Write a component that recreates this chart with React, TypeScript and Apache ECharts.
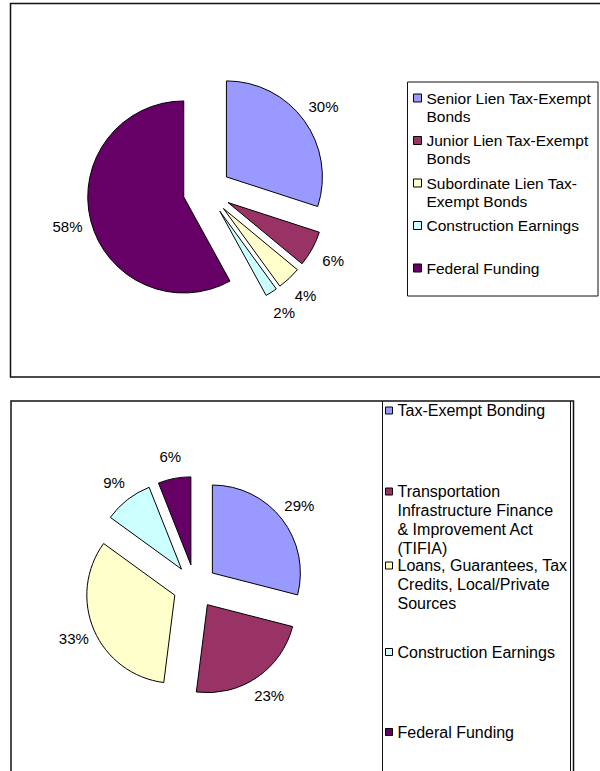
import React, { useEffect, useRef } from "react";
import * as echarts from "echarts";

// ---- data ----
const colors = ["#9999FF", "#993366", "#FFFFCC", "#CCFFFF", "#660066"];

const topNames = [
  "Senior Lien Tax-Exempt Bonds",
  "Junior Lien Tax-Exempt Bonds",
  "Subordinate Lien Tax-Exempt Bonds",
  "Construction Earnings",
  "Federal Funding",
];
const topLegendLabels = [
  "Senior Lien Tax-Exempt\nBonds",
  "Junior Lien Tax-Exempt\nBonds",
  "Subordinate Lien Tax-\nExempt Bonds",
  "Construction Earnings",
  "Federal Funding",
];
const topValues = [30, 6, 4, 2, 58];

const bottomNames = [
  "Tax-Exempt Bonding",
  "Transportation Infrastructure Finance & Improvement Act (TIFIA)",
  "Loans, Guarantees, Tax Credits, Local/Private Sources",
  "Construction Earnings",
  "Federal Funding",
];
const bottomLegendLabels = [
  "Tax-Exempt Bonding",
  "Transportation\nInfrastructure Finance\n& Improvement Act\n(TIFIA)",
  "Loans, Guarantees, Tax\nCredits, Local/Private\nSources",
  "Construction Earnings",
  "Federal Funding",
];
const bottomValues = [29, 23, 33, 9, 6];

// ---- layout ----
const FONT = "'Liberation Sans', Arial, sans-serif";
const topLayout = { cx: 207, cy: 191, r: 96, offset: 24, legendLeft: 413, icon: 8, iconCenters: [98, 140.5, 183, 225.5, 268], lh: 18, fs: 15.5 };
const bottomLayout = { cx: 195, cy: 586.5, r: 88, offset: 22, legendLeft: 385, icon: 7, iconCenters: [410.5, 491.5, 565.5, 652, 732], lh: 19, fs: 16 };

function buildPie(names: string[], values: number[], L: any) {
  const data = names.map((n, i) => ({
    name: n,
    value: values[i],
    selected: true,
    itemStyle: { color: colors[i] },
  }));
  const main = {
    type: "pie",
    center: [L.cx, L.cy],
    radius: [0, L.r],
    startAngle: 90,
    clockwise: true,
    selectedMode: "multiple",
    selectedOffset: L.offset,
    avoidLabelOverlap: false,
    itemStyle: { borderColor: "#000", borderWidth: 1 },
    select: { itemStyle: { borderColor: "#000", borderWidth: 1 } },
    emphasis: { disabled: true },
    label: { show: false },
    labelLine: { show: false },
    data,
  };
  const lr = L.r * 1.5 - 3;
  const labels = {
    type: "pie",
    center: [L.cx, L.cy],
    radius: [lr - 1, lr + 1],
    startAngle: 90,
    clockwise: true,
    silent: true,
    selectedMode: false,
    avoidLabelOverlap: false,
    itemStyle: { color: "rgba(0,0,0,0)", borderWidth: 0 },
    emphasis: { disabled: true },
    label: {
      show: true,
      position: "inside",
      color: "#000",
      fontSize: 15,
      fontFamily: FONT,
      formatter: (p: any) => p.value + "%",
    },
    labelLine: { show: false },
    data: names.map((n, i) => ({ name: n, value: values[i] })),
  };
  return [main, labels];
}

function buildLegends(names: string[], labels: string[], L: any) {
  return names.map((n, i) => {
    const lines = labels[i].split("\n").length;
    // leading blank lines keep the swatch level with the first text line
    const shown = "\n".repeat(lines - 1) + labels[i];
    const half = L.icon / 2;
    return {
      data: [n],
      left: L.legendLeft,
      top: L.iconCenters[i] - Math.max(((2 * lines - 1) * L.lh) / 2, half),
      orient: "vertical",
      padding: 0,
      itemGap: 0,
      itemWidth: L.icon,
      itemHeight: L.icon,
      icon: "rect",
      selectedMode: false,
      itemStyle: { borderColor: "#000", borderWidth: 1 },
      formatter: () => shown,
      textStyle: {
        color: "#000",
        fontSize: L.fs,
        fontFamily: FONT,
        lineHeight: L.lh,
      },
    };
  });
}

export default function App() {
  const ref = useRef<HTMLDivElement>(null);
  useEffect(() => {
    if (!ref.current) return;
    const chart = echarts.init(ref.current, null, { renderer: "svg" });
    const stroke = "#111";
    chart.setOption({
      animation: false,
      backgroundColor: "#fff",
      legend: [
        ...buildLegends(topNames, topLegendLabels, topLayout),
        ...buildLegends(bottomNames, bottomLegendLabels, bottomLayout),
      ],
      graphic: [
        // top frame
        { type: "rect", silent: true, shape: { x: 10.5, y: 3.5, width: 620, height: 373.5 }, style: { fill: "none", stroke, lineWidth: 1.5 } },
        // top legend box
        { type: "rect", silent: true, shape: { x: 407.5, y: 82, width: 190.5, height: 214 }, style: { fill: "none", stroke, lineWidth: 1 } },
        // bottom frame
        { type: "polyline", silent: true, shape: { points: [[11, 800], [11, 401], [573.5, 401], [573.5, 800]] }, style: { fill: "none", stroke, lineWidth: 1.5 } },
        { type: "line", silent: true, shape: { x1: 570.5, y1: 401, x2: 570.5, y2: 800 }, style: { stroke, lineWidth: 1 } },
        { type: "line", silent: true, shape: { x1: 382.5, y1: 401, x2: 382.5, y2: 800 }, style: { stroke, lineWidth: 1 } },
      ],
      series: [
        ...buildPie(topNames, topValues, topLayout),
        ...buildPie(bottomNames, bottomValues, bottomLayout),
      ],
    });
    return () => chart.dispose();
  }, []);
  return (
    <div
      ref={ref}
      style={{ position: "absolute", left: 0, top: 0, width: 600, height: 771 }}
    />
  );
}
